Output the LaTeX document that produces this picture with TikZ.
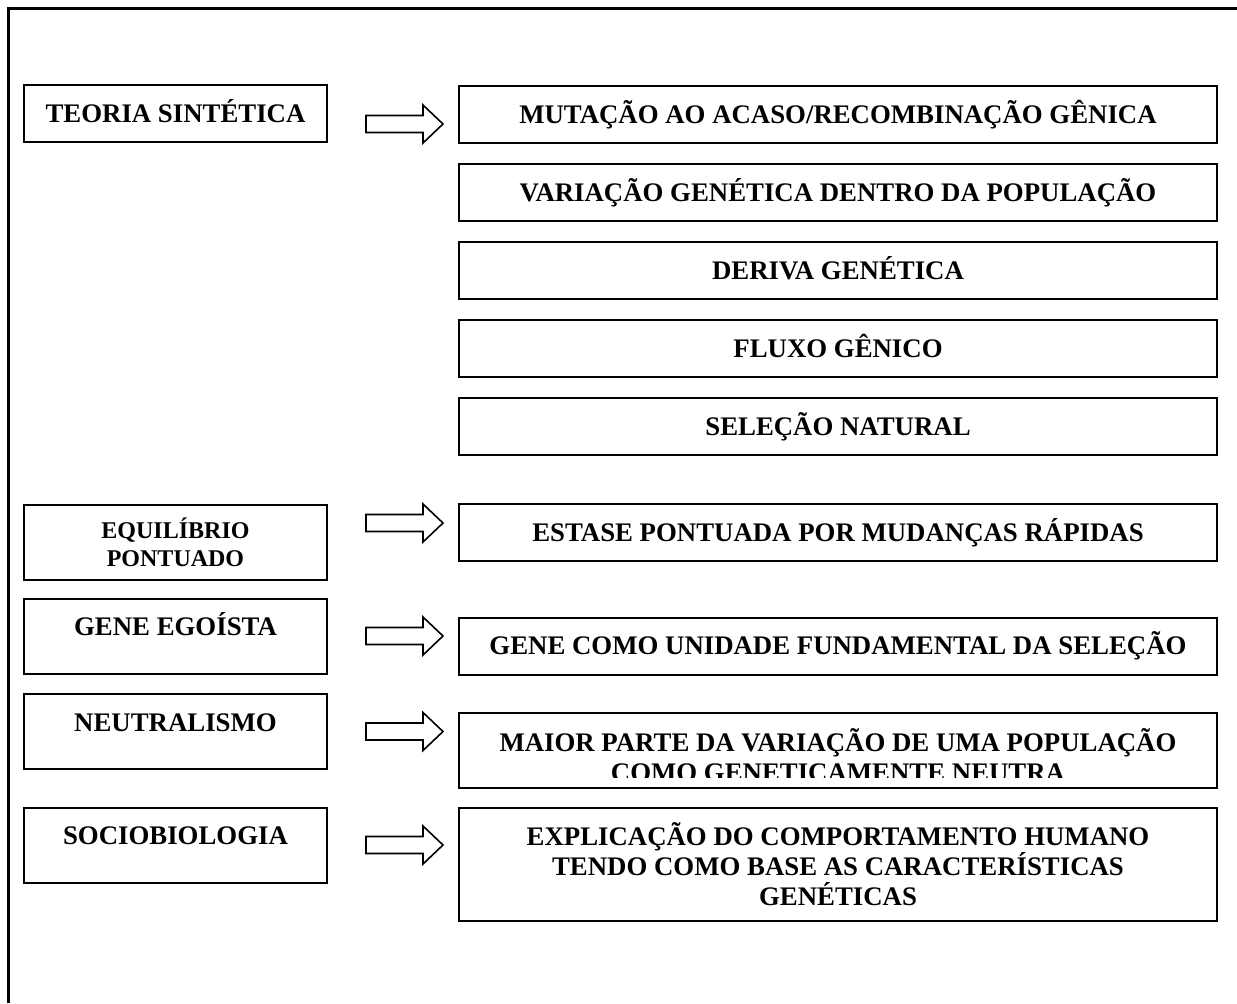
\documentclass[tikz,border=0pt]{standalone}
\usepackage{fontspec}
\setmainfont{Liberation Serif}
\usetikzlibrary{positioning}

\tikzset{
  pics/blockarrow/.style={code={
    \draw[arrowline] (0,-8.5) -- (57,-8.5) -- (57,-19) -- (77,0)
      -- (57,19) -- (57,8.5) -- (0,8.5) -- cycle;
  }}
}

\begin{document}
\begin{tikzpicture}[x=0.5pt,y=-0.5pt,
  frameline/.style={line width=1.5pt},
  arrowline/.style={line width=0.8pt, line join=miter},
  lbox/.style={draw, line width=1pt, minimum width=151.5pt, minimum height=37.5pt,
    inner sep=0pt, align=center, font=\bfseries\fontsize{13.4}{15}\selectfont},
  rbox/.style={draw, line width=1pt, minimum width=379pt, minimum height=28.5pt,
    inner sep=0pt, align=center, font=\bfseries\fontsize{13.4}{15}\selectfont},
  oneline/.style={text height=8.8pt, text depth=0pt},
  upper/.style={text height=8.8pt, text depth=9pt}]
\useasboundingbox (0,0) rectangle (1237,1003);
% moldura
\draw[frameline] (8,1003) -- (8,8) -- (1237,8);
% teorias
\node[lbox, minimum height=28.5pt, oneline] (teoria) at (175.5,113.5) {TEORIA SINTÉTICA};
\node[lbox, font=\bfseries\fontsize{12}{14}\selectfont] (equil) at (175.5,542.5) {EQUILÍBRIO\\PONTUADO};
\node[lbox, upper] (egoista) at (175.5,636) {GENE EGOÍSTA};
\node[lbox, upper] (neutral) at (175.5,731.5) {NEUTRALISMO};
\node[lbox, upper] (socio) at (175.5,845) {SOCIOBIOLOGIA};
% teoria sintetica
\node[rbox, oneline] (mutacao) at (838,114.5) {MUTAÇÃO AO ACASO/RECOMBINAÇÃO GÊNICA};
\node[rbox, oneline, below=9.5pt of mutacao] (variacao) {VARIAÇÃO GENÉTICA DENTRO DA POPULAÇÃO};
\node[rbox, oneline, below=9.5pt of variacao] (deriva) {DERIVA GENÉTICA};
\node[rbox, oneline, below=9.5pt of deriva] (fluxo) {FLUXO GÊNICO};
\node[rbox, oneline, below=9.5pt of fluxo] (selecao) {SELEÇÃO NATURAL};
% demais teorias
\node[rbox, oneline] (estase) at (838,532.5) {ESTASE PONTUADA POR MUDANÇAS RÁPIDAS};
\node[rbox, oneline] (genecomo) at (838,646) {GENE COMO UNIDADE FUNDAMENTAL DA SELEÇÃO};
\node[rbox, minimum height=37.5pt] (maior) at (838,750.5) {};
\begin{scope}
  \clip (maior.north west) rectangle ([yshift=6pt]maior.south east);
  \node[align=center, font=\bfseries\fontsize{13.4}{15}\selectfont] (maiortxt)
    at ([yshift=-2.25pt]maior.center) {MAIOR PARTE DA VARIAÇÃO DE UMA POPULAÇÃO\\COMO GENETICAMENTE NEUTRA};
\end{scope}
\node[rbox, minimum height=56.5pt] (explic) at (838,864.5) {EXPLICAÇÃO DO COMPORTAMENTO HUMANO\\TENDO COMO BASE AS CARACTERÍSTICAS\\GENÉTICAS};
% setas
\pic at ([xshift=19pt,yshift=-5.25pt]teoria.east) {blockarrow};
\pic at ([xshift=19pt,yshift=9.75pt]equil.east) {blockarrow};
\pic at ([xshift=19pt]egoista.east) {blockarrow};
\pic at ([xshift=19pt]neutral.east) {blockarrow};
\pic at ([xshift=19pt]socio.east) {blockarrow};
\end{tikzpicture}
\end{document}
